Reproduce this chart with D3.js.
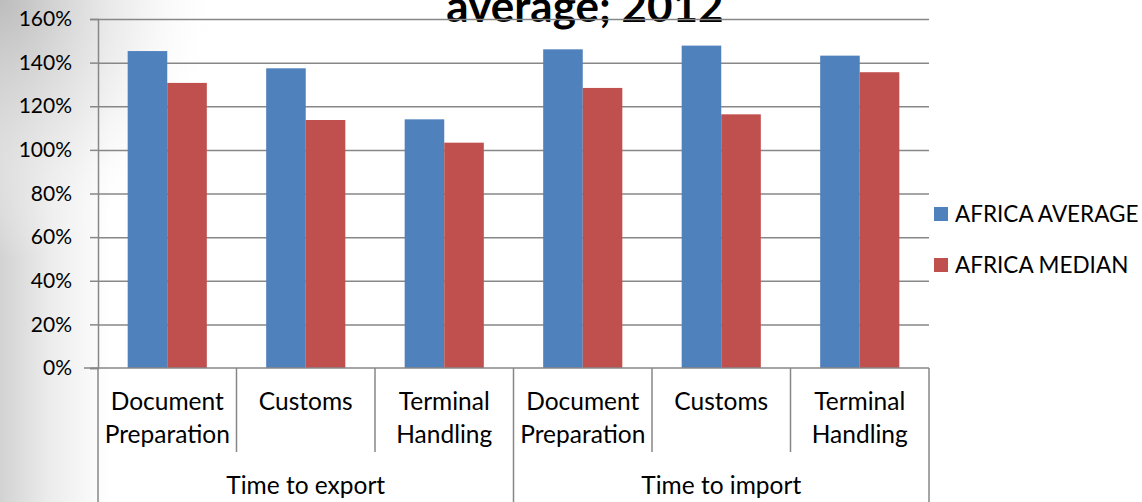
<!DOCTYPE html>
<html>
<head>
<meta charset="utf-8">
<script src="https://cdn.jsdelivr.net/npm/d3@7"></script>
<style>
  html, body { margin: 0; padding: 0; background: #fff; }
  svg { display: block; }
  text { font-family: Lato, "Open Sans", sans-serif; fill: #000; }
</style>
</head>
<body>
<svg id="chart" width="1142" height="502"></svg>
<script>
// Chart data
const groups = ["Time to export", "Time to import"];
const subcategories = ["Document Preparation", "Customs", "Terminal Handling"];
const seriesNames = ["AFRICA AVERAGE", "AFRICA MEDIAN"];
const africaAverage = [1.453, 1.374, 1.140, 1.461, 1.478, 1.432];
const africaMedian  = [1.307, 1.137, 1.033, 1.284, 1.163, 1.356];
const yTicks = [0, 0.2, 0.4, 0.6, 0.8, 1.0, 1.2, 1.4, 1.6];
const titleText = "average; 2012";

const colors = ["#4F81BD", "#C0504D"];
const gridColor = "#878787";

const svg = d3.select("#chart");
const W = 1142, H = 502;
const plot = { left: 98, right: 929, top: 19, bottom: 368 };

// Slide-style background shading on the left edge
const defs = svg.append("defs");
const lin = defs.append("linearGradient").attr("id", "bgLin")
  .attr("x1", 0).attr("x2", 1).attr("y1", 0).attr("y2", 0);
lin.append("stop").attr("offset", "0%").attr("stop-color", "#d2d2d2");
lin.append("stop").attr("offset", "45%").attr("stop-color", "#ececec");
lin.append("stop").attr("offset", "100%").attr("stop-color", "#ffffff");
const rad = defs.append("radialGradient").attr("id", "bgRad")
  .attr("cx", 0).attr("cy", 0).attr("r", 1).attr("gradientUnits", "objectBoundingBox");
rad.append("stop").attr("offset", "0%").attr("stop-color", "#bdbdbd").attr("stop-opacity", 1);
rad.append("stop").attr("offset", "60%").attr("stop-color", "#e6e6e6").attr("stop-opacity", 0.6);
rad.append("stop").attr("offset", "100%").attr("stop-color", "#ffffff").attr("stop-opacity", 0);

svg.append("rect").attr("width", W).attr("height", H).attr("fill", "#fff");
svg.append("rect").attr("x", 0).attr("y", 0).attr("width", 110).attr("height", H).attr("fill", "url(#bgLin)");
svg.append("rect").attr("x", 0).attr("y", 0).attr("width", 220).attr("height", 260).attr("fill", "url(#bgRad)");

// Scales
const keys = d3.range(africaAverage.length);
const x = d3.scaleBand().domain(keys).range([plot.left, plot.right]).paddingInner(0).paddingOuter(0);
const xSeries = d3.scaleBand().domain(seriesNames).range([0, x.bandwidth()]).paddingInner(0).paddingOuter(0.75);
const y = d3.scaleLinear().domain([0, 1.6]).range([plot.bottom, plot.top]);

// Title (its upper lines sit above the visible area)
svg.append("text")
  .attr("x", 585).attr("y", 22)
  .attr("text-anchor", "middle")
  .style("font-weight", "bold").style("font-size", "44px")
  .text(titleText);

// Gridlines
const grid = svg.append("g").attr("transform", `translate(${plot.left},0)`)
  .call(d3.axisLeft(y).tickValues(yTicks.slice(1)).tickSize(-(plot.right - plot.left)).tickFormat(""));
grid.select(".domain").remove();
grid.selectAll(".tick line").attr("stroke", gridColor).attr("stroke-width", 1.5);

// Value axis
const yAxis = svg.append("g").attr("transform", `translate(${plot.left},0)`)
  .call(d3.axisLeft(y).tickValues(yTicks).tickSize(8).tickPadding(18).tickFormat(d3.format(".0%")));
yAxis.select(".domain").attr("stroke", gridColor).attr("stroke-width", 1.5);
yAxis.selectAll(".tick line").attr("stroke", gridColor).attr("stroke-width", 1.5);
yAxis.selectAll(".tick text").style("font-size", "21px").style("font-family", "Lato, sans-serif").attr("fill", "#000");

// Bars
const seriesValues = [africaAverage, africaMedian];
seriesNames.forEach((name, si) => {
  svg.append("g").selectAll("rect").data(keys).join("rect")
    .attr("x", k => x(k) + xSeries(name))
    .attr("width", xSeries.bandwidth())
    .attr("y", k => y(seriesValues[si][k]))
    .attr("height", k => y(0) - y(seriesValues[si][k]))
    .attr("fill", colors[si]);
});

// Category axis (two levels)
const cat = svg.append("g");
cat.append("line")
  .attr("x1", plot.left - 14).attr("x2", plot.right)
  .attr("y1", y(0)).attr("y2", y(0))
  .attr("stroke", gridColor).attr("stroke-width", 1.5);

keys.forEach(k => {
  const xl = x(k);
  const isGroupEdge = k % subcategories.length === 0;
  cat.append("line")
    .attr("x1", xl).attr("x2", xl)
    .attr("y1", y(0)).attr("y2", isGroupEdge ? H : 452)
    .attr("stroke", gridColor).attr("stroke-width", 1.5);
  const words = subcategories[k % subcategories.length].split(" ");
  const t = cat.append("text")
    .attr("x", xl + x.bandwidth() / 2).attr("y", 410)
    .attr("text-anchor", "middle").style("font-size", "24.5px");
  words.forEach((w, i) => {
    t.append("tspan").attr("x", xl + x.bandwidth() / 2).attr("dy", i === 0 ? 0 : 32.6).text(w);
  });
});
cat.append("line")
  .attr("x1", plot.right).attr("x2", plot.right)
  .attr("y1", y(0)).attr("y2", H)
  .attr("stroke", gridColor).attr("stroke-width", 1.5);

groups.forEach((g, gi) => {
  const x0 = x(gi * subcategories.length);
  const x1 = x(gi * subcategories.length + subcategories.length - 1) + x.bandwidth();
  cat.append("text")
    .attr("x", (x0 + x1) / 2).attr("y", 494)
    .attr("text-anchor", "middle").style("font-size", "24.5px")
    .text(g);
});

// Legend
const legend = svg.append("g");
seriesNames.forEach((name, i) => {
  const ly = 214 + i * 51;
  legend.append("rect").attr("x", 934).attr("y", ly - 7).attr("width", 14).attr("height", 14).attr("fill", colors[i]);
  legend.append("text").attr("x", 955).attr("y", ly + 8).style("font-size", "22.5px").text(name);
});
</script>
</body>
</html>
